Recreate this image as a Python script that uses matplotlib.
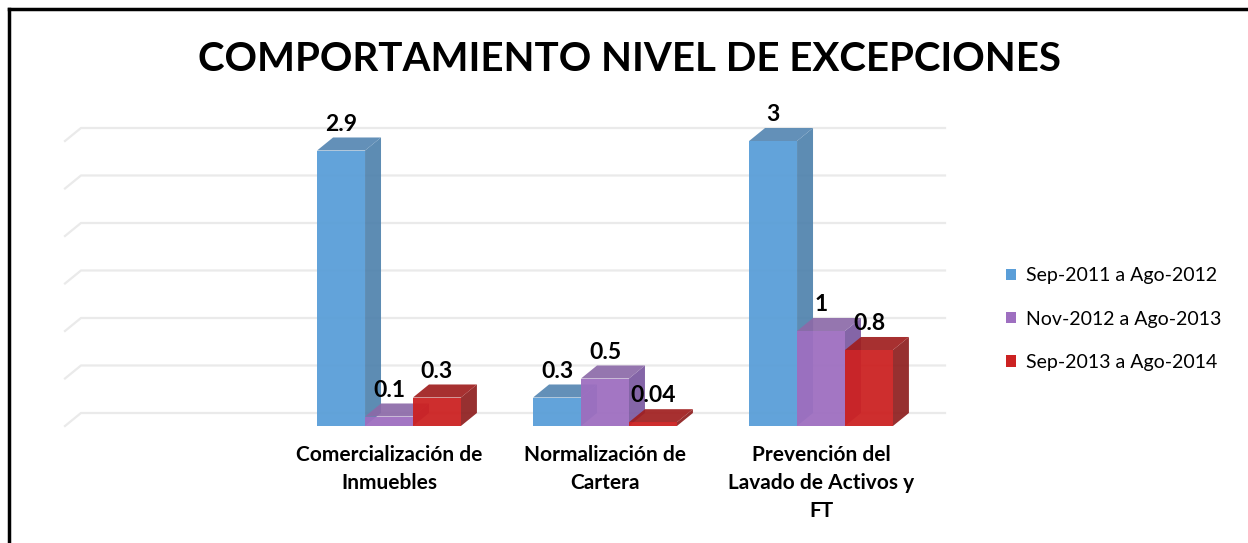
import matplotlib.pyplot as plt
from matplotlib.lines import Line2D
from matplotlib.patches import Patch

categories = ["", "Comercialización de\nInmuebles", "Normalización de\nCartera",
              "Prevención del\nLavado de Activos y\nFT"]
series_names = ["Sep-2011 a Ago-2012", "Nov-2012 a Ago-2013", "Sep-2013 a Ago-2014"]
sep11 = [None, 2.9, 0.3, 3]
nov12 = [None, 0.1, 0.5, 1]
sep13 = [None, 0.3, 0.04, 0.8]
series = [sep11, nov12, sep13]

front_cols = ["#5A9ED8", "#9E6FC0", "#CC2222"]
side_cols = ["#4F82AD", "#7A58A0", "#8E1E1E"]
top_cols = ["#5687B2", "#8C6AA8", "#A01E1E"]

plt.rcParams['font.family'] = ['Lato', 'DejaVu Sans']

W, H = 1248, 543
fig = plt.figure(figsize=(W / 100, H / 100), dpi=100)
ax = fig.add_axes([65 / W, 117 / H, 880 / W, 323 / H])

bw = 0.222   # bar width (category units)
dx = 0.074   # depth offset in x
dy = 0.137   # depth offset in y
ax.set_xlim(-0.5, 3.5 + dx)
ax.set_ylim(0, 3.4)

# back wall gridlines with the little diagonal at the left
for g in [0, 0.5, 1, 1.5, 2, 2.5, 3]:
    ax.plot([-0.5, -0.5 + dx, 3.5 + dx], [g, g + dy, g + dy],
            color="#EAEAEA", lw=1.6, zorder=0, clip_on=False)

for i in range(len(categories)):
    for j, s in enumerate(series):
        v = s[i]
        if v is None:
            continue
        x0 = i + (j - 1.5) * bw
        x1 = x0 + bw
        # side face
        ax.fill([x1, x1 + dx, x1 + dx, x1], [0, dy, v + dy, v],
                color=side_cols[j], alpha=0.92, lw=0, zorder=2 + j)
        # top face
        ax.fill([x0, x1, x1 + dx, x0 + dx], [v, v, v + dy, v + dy],
                color=top_cols[j], alpha=0.92, lw=0, zorder=2 + j)
        # front face
        ax.fill([x0, x1, x1, x0], [0, 0, v, v],
                color=front_cols[j], alpha=0.95, lw=0, zorder=2 + j)
        ax.annotate(f"{v:g}", (x0 + bw / 2, v + dy), xytext=(0, 2),
                    textcoords="offset points", ha="center", va="bottom",
                    fontsize=16.5, fontweight="bold", color="black",
                    annotation_clip=False, zorder=10)

ax.set_xticks(range(len(categories)))
ax.set_xticklabels(categories, fontsize=15, fontweight="bold", linespacing=1.5, va="top")
ax.tick_params(axis="x", length=0, pad=14)
ax.set_yticks([])
for sp in ax.spines.values():
    sp.set_visible(False)
ax.patch.set_alpha(0)

fig.text(630 / W, 1 - 60 / H, "COMPORTAMIENTO NIVEL DE EXCEPCIONES",
         ha="center", va="center", fontsize=29, fontweight="bold")

handles = [Patch(facecolor=c, edgecolor="none") for c in front_cols]
fig.legend(handles, series_names, loc="center left",
           bbox_to_anchor=(988 / W, 1 - 319 / H), frameon=False,
           fontsize=14, handlelength=0.55, handleheight=0.55,
           handletextpad=0.5, labelspacing=1.35)

# outer frame (only left and top visible)
fig.add_artist(Line2D([9 / W, 9 / W], [0, 1 - 9 / H], color="black", lw=2.5))
fig.add_artist(Line2D([9 / W, 1], [1 - 9 / H, 1 - 9 / H], color="black", lw=2.5))

fig.savefig("out.png", dpi=100, facecolor="white")
